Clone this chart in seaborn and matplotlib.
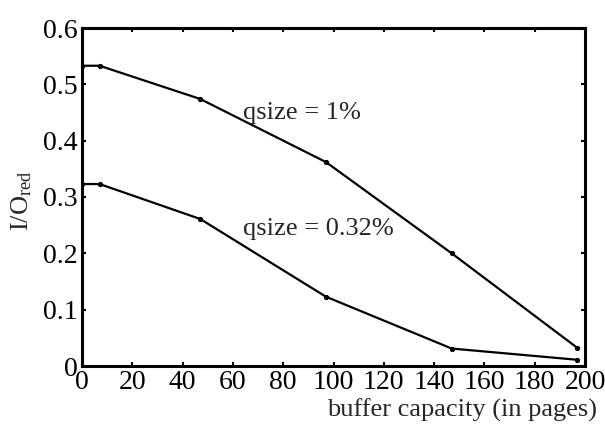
import matplotlib
matplotlib.use("Agg")
import matplotlib.pyplot as plt
import seaborn as sns
import pandas as pd

buffer_pages = [0, 7, 47, 97, 147, 197]
io_red_1pct = [0.533, 0.533, 0.474, 0.362, 0.200, 0.032]
io_red_032pct = [0.323, 0.323, 0.261, 0.123, 0.031, 0.011]
series_labels = ["qsize = 1%", "qsize = 0.32%"]
x_ticks = [0, 20, 40, 60, 80, 100, 120, 140, 160, 180, 200]
y_ticks = [0, 0.1, 0.2, 0.3, 0.4, 0.5, 0.6]
y_tick_labels = ["0", "0.1", "0.2", "0.3", "0.4", "0.5", "0.6"]

df = pd.DataFrame({
    "x": buffer_pages * 2,
    "y": io_red_1pct + io_red_032pct,
    "series": [series_labels[0]] * len(buffer_pages) + [series_labels[1]] * len(buffer_pages),
})

sns.set_style("ticks")
plt.rcParams["font.family"] = ["Liberation Serif", "DejaVu Serif"]
plt.rcParams["mathtext.fontset"] = "custom"
plt.rcParams["mathtext.rm"] = "Liberation Serif"
plt.rcParams["mathtext.it"] = "Liberation Serif:italic"

fig = plt.figure(figsize=(6.05, 4.26), dpi=100)
ax = fig.add_axes([82 / 605, 60 / 426, 503 / 605, 338 / 426])

sns.lineplot(data=df, x="x", y="y", hue="series", palette=["black", "black"],
             marker="o", markersize=3, linewidth=1.6, legend=False, ax=ax,
             markeredgecolor="black")

ax.set_xlim(0, 200)
ax.set_ylim(0, 0.6)
ax.set_xticks(x_ticks)
ax.set_xticklabels([str(t) for t in x_ticks])
ax.set_yticks(y_ticks)
ax.set_yticklabels(y_tick_labels)
ax.tick_params(direction="in", length=3, width=1.5, top=True, right=True,
               labelsize=20, colors="black", pad=3)
for s in ax.spines.values():
    s.set_linewidth(2.2)
    s.set_color("black")

ax.set_xlabel("buffer capacity (in pages)", fontsize=19, ha="right", va="center")
ax.xaxis.set_label_coords(1.024, -0.13)
ax.set_ylabel(r"I/O$_{\mathrm{red}}$", fontsize=19, va="center")
ax.yaxis.set_label_coords(-0.12, 0.49)

ax.text(87.5, 0.449, series_labels[0], fontsize=19, ha="center", va="center")
ax.text(93.8, 0.243, series_labels[1], fontsize=19, ha="center", va="center")

fig.savefig("out.png", dpi=100)
